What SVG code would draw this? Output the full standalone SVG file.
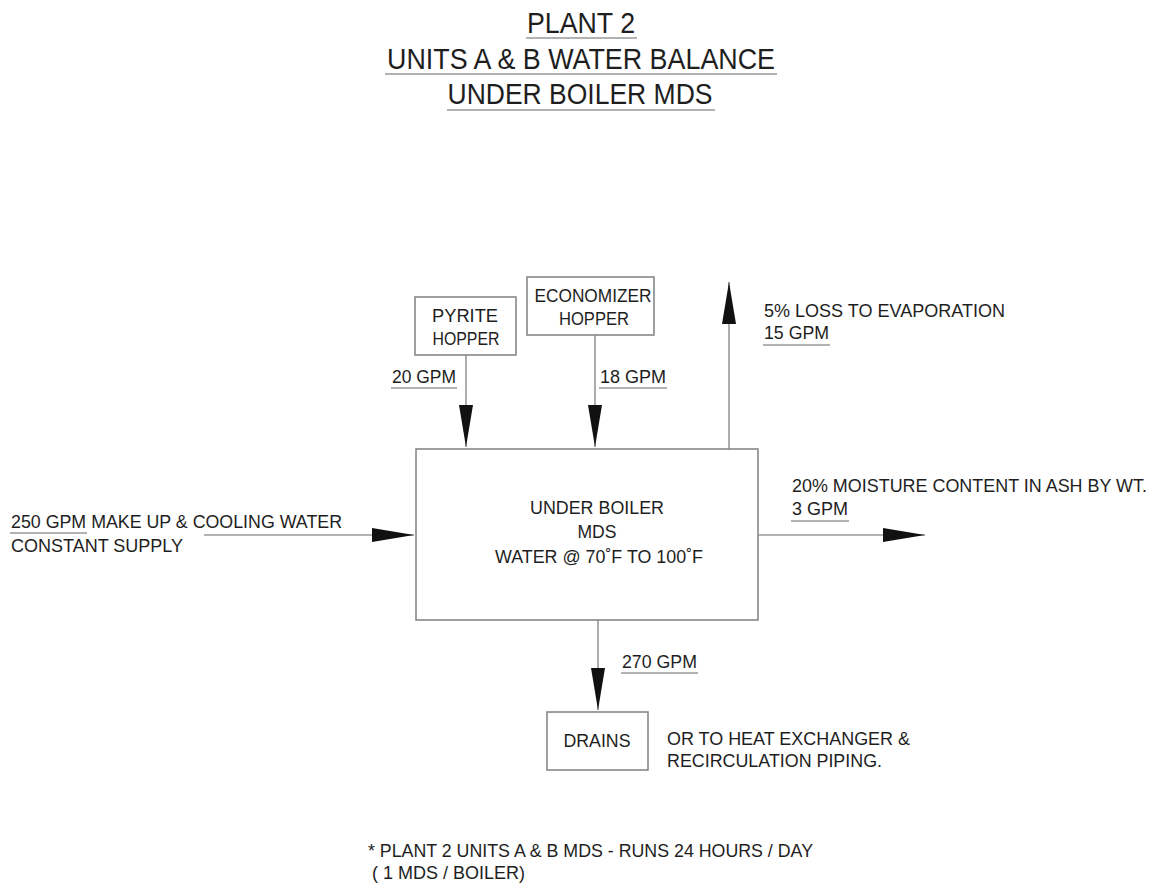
<svg xmlns="http://www.w3.org/2000/svg" width="1156" height="884" viewBox="0 0 1156 884">
<defs>
<marker id="ah" viewBox="0 0 42 14" refX="42" refY="7" markerWidth="42" markerHeight="14" markerUnits="userSpaceOnUse" orient="auto">
<path d="M0,0 L42,7 L0,14 Z" fill="#111"/>
</marker>
<style>
text{font-family:"Liberation Sans",Arial,sans-serif;fill:#1e1e1e;font-size:18px}
.t{font-size:30px}
.m{text-anchor:middle}
.box{fill:none;stroke:#888;stroke-width:1.6}
.ln{stroke:#999;stroke-width:1.6;fill:none}
.ul{stroke:#999;stroke-width:1.4}
</style>
</defs>
<rect width="1156" height="884" fill="#fff"/>
<g id="title">
<text class="t m" x="581" y="33" textLength="108" lengthAdjust="spacingAndGlyphs">PLANT 2</text>
<line class="ul" x1="526" y1="38" x2="637" y2="38"/>
<text class="t m" x="581" y="69" textLength="388" lengthAdjust="spacingAndGlyphs">UNITS A &amp; B WATER BALANCE</text>
<line class="ul" x1="385" y1="74" x2="777" y2="74"/>
<text class="t m" x="580" y="104" textLength="265" lengthAdjust="spacingAndGlyphs">UNDER BOILER MDS</text>
<line class="ul" x1="447" y1="110" x2="715" y2="110"/>
</g>
<g id="connectors">
<line class="ln" x1="466" y1="355" x2="466" y2="447" marker-end="url(#ah)"/>
<line class="ln" x1="595" y1="335" x2="595" y2="447" marker-end="url(#ah)"/>
<line class="ln" x1="729" y1="449" x2="729" y2="282" marker-end="url(#ah)"/>
<line class="ln" x1="204" y1="535" x2="414" y2="535" marker-end="url(#ah)"/>
<line class="ln" x1="758" y1="535" x2="925" y2="535" marker-end="url(#ah)"/>
<line class="ln" x1="598" y1="620" x2="598" y2="710" marker-end="url(#ah)"/>
</g>
<g id="pyrite">
<rect class="box" x="415" y="297" width="101" height="58"/>
<text class="m" x="465" y="322" textLength="66" lengthAdjust="spacingAndGlyphs">PYRITE</text>
<text class="m" x="466" y="345" textLength="67" lengthAdjust="spacingAndGlyphs">HOPPER</text>
</g>
<g id="economizer">
<rect class="box" x="527" y="277" width="127" height="58"/>
<text class="m" x="593" y="302" textLength="117" lengthAdjust="spacingAndGlyphs">ECONOMIZER</text>
<text class="m" x="594" y="325" textLength="70" lengthAdjust="spacingAndGlyphs">HOPPER</text>
</g>
<g id="mds">
<rect class="box" x="416" y="449" width="342" height="171"/>
<text class="m" x="597" y="514" textLength="134" lengthAdjust="spacingAndGlyphs">UNDER BOILER</text>
<text class="m" x="597" y="538" textLength="39" lengthAdjust="spacingAndGlyphs">MDS</text>
<text class="m" x="599" y="563" textLength="208" lengthAdjust="spacingAndGlyphs">WATER @ 70˚F TO 100˚F</text>
</g>
<g id="drains">
<rect class="box" x="547" y="712" width="101" height="58"/>
<text class="m" x="597" y="747" textLength="67" lengthAdjust="spacingAndGlyphs">DRAINS</text>
</g>
<g id="labels">
<text x="392" y="383" textLength="64" lengthAdjust="spacingAndGlyphs">20 GPM</text>
<line class="ul" x1="391" y1="388" x2="457" y2="388"/>
<text x="600" y="383" textLength="66" lengthAdjust="spacingAndGlyphs">18 GPM</text>
<line class="ul" x1="599" y1="388" x2="667" y2="388"/>
<text x="764" y="317" textLength="241" lengthAdjust="spacingAndGlyphs">5% LOSS TO EVAPORATION</text>
<text x="764" y="339" textLength="65" lengthAdjust="spacingAndGlyphs">15 GPM</text>
<line class="ul" x1="763" y1="345" x2="830" y2="345"/>
<text x="792" y="492" textLength="355" lengthAdjust="spacingAndGlyphs">20% MOISTURE CONTENT IN ASH BY WT.</text>
<text x="792" y="515" textLength="56" lengthAdjust="spacingAndGlyphs">3 GPM</text>
<line class="ul" x1="791" y1="521" x2="849" y2="521"/>
<text x="11" y="528" textLength="331" lengthAdjust="spacingAndGlyphs">250 GPM MAKE UP &amp; COOLING WATER</text>
<line class="ul" x1="10" y1="533" x2="87" y2="533"/>
<text x="11" y="552" textLength="172" lengthAdjust="spacingAndGlyphs">CONSTANT SUPPLY</text>
<text x="622" y="668" textLength="75" lengthAdjust="spacingAndGlyphs">270 GPM</text>
<line class="ul" x1="621" y1="673" x2="698" y2="673"/>
<text x="667" y="745" textLength="243" lengthAdjust="spacingAndGlyphs">OR TO HEAT EXCHANGER &amp;</text>
<text x="667" y="767" textLength="215" lengthAdjust="spacingAndGlyphs">RECIRCULATION PIPING.</text>
<text x="368" y="857" textLength="445" lengthAdjust="spacingAndGlyphs">* PLANT 2 UNITS  A &amp; B MDS - RUNS 24 HOURS / DAY</text>
<text x="372" y="879" textLength="153" lengthAdjust="spacingAndGlyphs">( 1 MDS / BOILER)</text>
</g>
</svg>
